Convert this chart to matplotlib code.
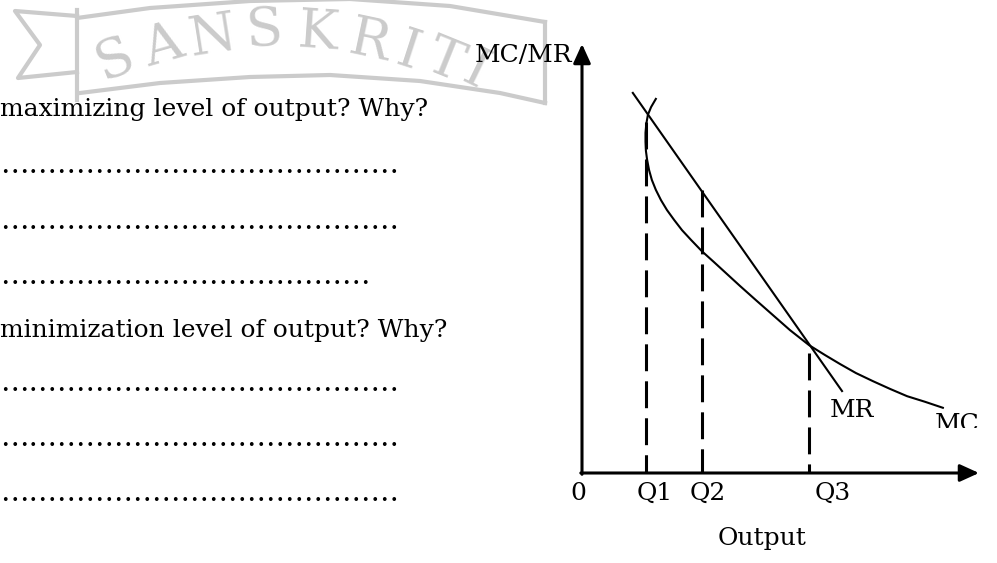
import matplotlib
matplotlib.use('Agg')
import matplotlib.pyplot as plt
from matplotlib.transforms import Bbox

plt.rcParams['font.family'] = 'DejaVu Serif'

W, H = 997, 563

# left side of the page: question text and dotted answer lines
question_lines = ['maximizing level of output? Why?',
                  'minimization level of output? Why?']
question_base = [116, 337]
answer_dots = [14, 14, 13, 14, 14, 14]
answer_base = [173, 229, 284, 391, 446, 501]

# diagram values (x = output, y = MC/MR), axis units 0-10
q_labels = ['Q1', 'Q2', 'Q3']
q_pos = [1.61, 3.02, 5.72]
q_top = [8.18, 6.60, 2.80]
q_label_x = [1.84, 3.17, 6.32]

mr_x = [1.28, 6.55]
mr_y = [8.86, 1.91]

mc_x = [1.86, 1.74, 1.66, 1.62, 1.60, 1.60, 1.61, 1.64, 1.69, 1.76,
        1.86, 1.99, 2.14, 2.32, 2.52, 2.75, 3.02, 3.32, 3.65, 3.98,
        4.38, 4.81, 5.24, 5.72, 6.12, 6.50, 6.90, 7.33, 7.76, 8.19,
        8.64, 9.09]
mc_y = [8.72, 8.53, 8.35, 8.14, 7.93, 7.72, 7.51, 7.30, 7.06, 6.83,
        6.60, 6.36, 6.13, 5.90, 5.66, 5.43, 5.17, 4.92, 4.64, 4.36,
        4.03, 3.68, 3.33, 2.98, 2.75, 2.54, 2.33, 2.14, 1.96, 1.79,
        1.66, 1.52]

# watermark letters
wm_letters = list('SANSKRITI')
wm_xy = [(115, 60), (163, 47), (212, 37), (264, 31), (318, 33),
         (370, 42), (409, 52), (444, 62), (476, 72)]
wm_rot = [22, 16, 9, 3, -4, -12, -18, -22, -26]
wm_color = '#cbcbcb'


def fx(px):
    return px / W


def fy(py):
    return 1 - py / H


fig = plt.figure(figsize=(W / 100, H / 100), dpi=100)
fig.patch.set_facecolor('white')

# watermark banner (background decoration)
bg = fig.add_axes([0, 0, 1, 1])
bg.set_xlim(0, W)
bg.set_ylim(H, 0)
bg.axis('off')
banner = [
    [(77, 18), (150, 8), (250, 1), (350, -1), (450, 6), (545, 22)],
    [(80, 93), (160, 83), (250, 77), (330, 75), (420, 81), (500, 93), (545, 103)],
    [(77, 10), (77, 100)],
    [(77, 16), (15, 11), (40, 45), (18, 78), (77, 72)],
    [(545, 22), (545, 103)],
]
for seg in banner:
    bg.plot([p[0] for p in seg], [p[1] for p in seg], color=wm_color,
            lw=3, solid_joinstyle='round', zorder=0)
for ch, (x, y), r in zip(wm_letters, wm_xy, wm_rot):
    bg.text(x, y, ch, fontsize=39, color=wm_color, rotation=r,
            ha='center', va='center', zorder=1)

# question text
for txt, b in zip(question_lines, question_base):
    fig.text(fx(0), fy(b), txt, fontsize=18, va='baseline', ha='left')
for n, b in zip(answer_dots, answer_base):
    fig.text(fx(0), fy(b), '\u2026' * n, fontsize=20.5, va='baseline', ha='left')

# diagram
ax = fig.add_axes([fx(582), fy(473), 397 / W, 429 / H])
ax.set_xlim(0, 10)
ax.set_ylim(0, 10)
ax.axis('off')

arrow = dict(arrowstyle='-|>,head_length=0.55,head_width=0.25', lw=2.2,
             color='black', mutation_scale=21, shrinkA=0, shrinkB=0)
ax.annotate('', xy=(0, 10), xytext=(0, -0.03), arrowprops=arrow,
            annotation_clip=False)
ax.annotate('', xy=(10, 0), xytext=(-0.03, 0), arrowprops=arrow,
            annotation_clip=False)

ax.plot(mr_x, mr_y, color='black', lw=1.5, clip_on=False)
ax.plot(mc_x, mc_y, color='black', lw=1.5, clip_on=False,
        solid_joinstyle='round')

for q, top in zip(q_pos, q_top):
    ax.plot([q, q], [top, 0], color='black', lw=2.2,
            linestyle=(0, (8.8, 3.3)), clip_on=False)

ax.text(-0.25, 9.58, 'MC/MR', fontsize=18, ha='right', va='baseline')
ax.text(-0.10, -0.63, '0', fontsize=18, ha='center', va='baseline')
for lab, lx in zip(q_labels, q_label_x):
    ax.text(lx, -0.63, lab, fontsize=18, ha='center', va='baseline')
ax.text(4.53, -1.68, 'Output', fontsize=18, ha='center', va='baseline')
ax.text(6.25, 1.31, 'MR', fontsize=18, ha='left', va='baseline')
mc = ax.text(8.89, 0.98, 'MC', fontsize=18, ha='left', va='baseline')
mc.set_clip_box(Bbox.from_extents(0, H - 428, 980, H))
mc.set_clip_on(True)

fig.savefig('out.png', dpi=100, facecolor='white')
plt.close(fig)
